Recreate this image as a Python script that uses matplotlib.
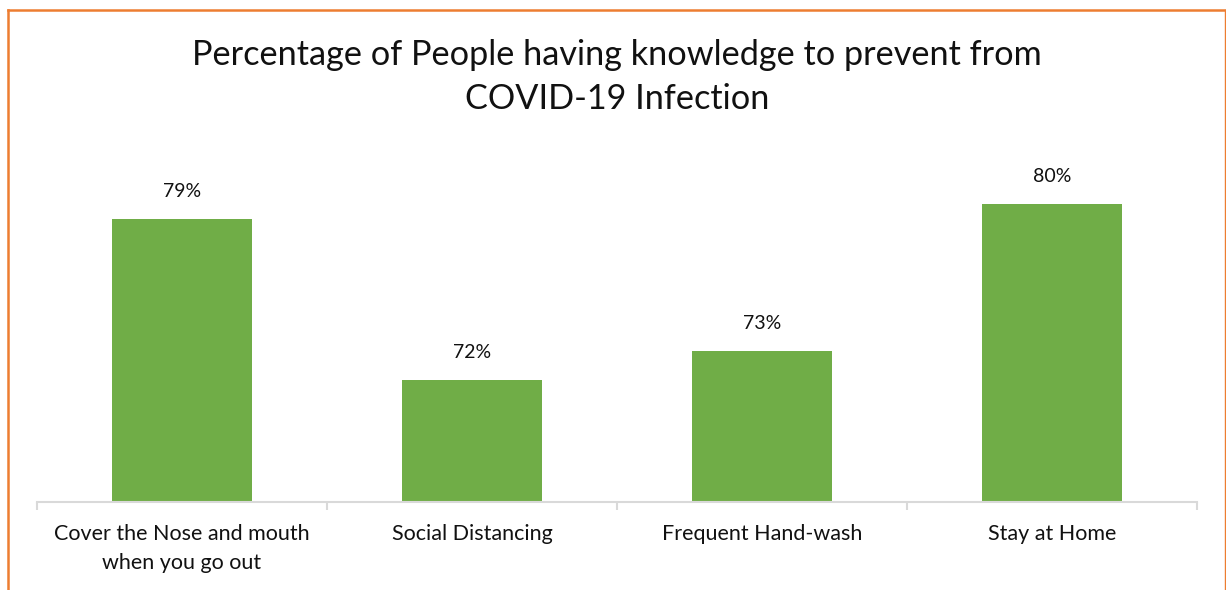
import matplotlib.pyplot as plt
from matplotlib.lines import Line2D

# Data (labels shown rounded in the chart)
categories = ["Cover the Nose and mouth\nwhen you go out", "Social Distancing",
              "Frequent Hand-wash", "Stay at Home"]
values = [79.48, 71.81, 73.19, 80.19]

plt.rcParams['font.family'] = ['Lato', 'DejaVu Sans']

W, H = 1226, 590
fig = plt.figure(figsize=(W / 100, H / 100), dpi=100)
ax = fig.add_axes([37 / W, 1 - 502 / H, (1197 - 37) / W, (502 - 160) / H])

x = range(len(categories))
bars = ax.bar(x, values, width=0.486, color='#70AD47', bottom=0)
ax.set_ylim(66, 66 + (502 - 160) / 21)
ax.set_xlim(-0.5, len(categories) - 0.5)

for b, v in zip(bars, values):
    ax.annotate(f"{v:.0f}%", (b.get_x() + b.get_width() / 2, v),
                xytext=(0, 20), textcoords='offset points',
                ha='center', va='center', fontsize=14, color='#111111')

for s in ['top', 'right', 'left']:
    ax.spines[s].set_visible(False)
ax.spines['bottom'].set_color('#D9D9D9')
ax.spines['bottom'].set_linewidth(1.5)
ax.set_yticks([])

# category labels between boundary ticks
ax.set_xticks([i - 0.5 for i in range(len(categories) + 1)])
ax.set_xticklabels([])
ax.tick_params(axis='x', length=6, width=1.5, color='#D9D9D9')
ax.set_xticks(list(x), minor=True)
ax.set_xticklabels(categories, minor=True, fontsize=15.5, color='#111111',
                   linespacing=1.55, va='top')
ax.tick_params(axis='x', which='minor', length=0, pad=16)

fig.text(617 / W, 1 - 77 / H,
         "Percentage of People having knowledge to prevent from\nCOVID-19 Infection",
         ha='center', va='center', fontsize=24.7, linespacing=1.48, color='#111111')

# orange chart border (left, top, right)
orange = '#ED7D31'
fig.add_artist(Line2D([7.5 / W, 7.5 / W], [0, 1 - 10 / H], color=orange, lw=1.8))
fig.add_artist(Line2D([7.5 / W, 1224.5 / W], [1 - 10 / H, 1 - 10 / H], color=orange, lw=1.8))
fig.add_artist(Line2D([1224.5 / W, 1224.5 / W], [0, 1 - 10 / H], color=orange, lw=1.0))

fig.savefig("out.png", dpi=100)
